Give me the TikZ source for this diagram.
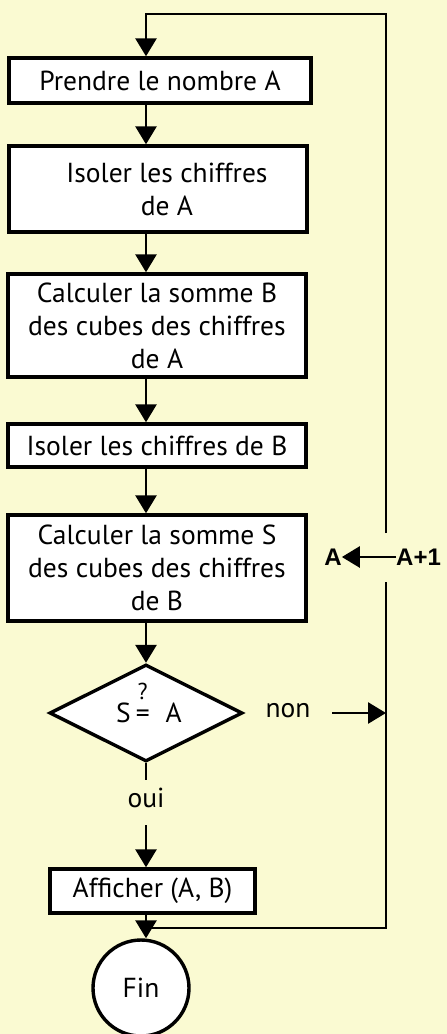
\documentclass[tikz,border=0pt]{standalone}
\usepackage{fontspec}
\setmainfont{PT Sans}
\newfontfamily\boldlabel{Liberation Sans}[BoldFont={Liberation Sans Bold}]
\usetikzlibrary{shapes.geometric,arrows.meta}
\definecolor{paper}{RGB}{250,250,210}

\tikzset{
  box/.style={draw,line width=3.4pt,fill=white,align=center,inner sep=0pt,
    font=\fontsize{27.5}{33}\selectfont},
  flow/.style={line width=2.8pt,-{Triangle[length=18pt,width=21pt]}},
  link/.style={line width=2.6pt},
  plain/.style={font=\fontsize{27.5}{30}\selectfont},
}
\newcommand{\queq}{\ooalign{=\cr\hidewidth\raisebox{23pt}{\fontsize{23}{23}\selectfont ?}\hidewidth\cr}}

\begin{document}
\begin{tikzpicture}[x=1pt,y=-1pt]

\path[use as bounding box,fill=paper] (0,0) rectangle (447,1034);

\coordinate (ax) at (146,0);
\coordinate (topL) at (146,14);
\coordinate (topR) at (386,14);
\coordinate (gapT) at (386,533);
\coordinate (gapB) at (386,582);
\coordinate (botR) at (386,928);
\coordinate (botL) at (146,928);

\node[box,minimum width=302pt,minimum height=45pt] (prendre) at (160,80.5) {Prendre le nombre A};
\node[box,minimum width=298pt,minimum height=86pt] (isolA) at (158,189) {\hspace*{18pt}Isoler les chiffres\\\hspace*{18pt}de A};
\node[box,minimum width=298pt,minimum height=103pt] (calcB) at (157,325.5) {Calculer la somme B\\des cubes des chiffres\\de A};
\node[box,minimum width=298pt,minimum height=43pt] (isolB) at (157,445.5) {Isoler les chiffres de B};
\node[box,minimum width=298pt,minimum height=106pt] (calcS) at (157,568) {Calculer la somme S\\des cubes des chiffres\\de B};
\node[box,shape=diamond,minimum width=193pt,minimum height=97pt] (test) at (146,713)
  {\hspace*{6pt}S\hspace{5pt}\queq\hspace{16pt}A};
\node[box,minimum width=205pt,minimum height=44pt] (affich) at (152.5,891) {Afficher (A, B)};
\node[box,shape=circle,minimum size=96pt] (fin) at (141,988) {Fin};

\node[plain] (non) at (288,711) {non};
\node[plain] (oui) at (146,798) {oui};
\coordinate (nonA) at (332,713);
\coordinate (nonB) at (386,713);
\coordinate (ouiA) at (146,780);
\coordinate (ouiB) at (146,825);

\node[font=\boldlabel\bfseries\fontsize{24}{28}\selectfont,inner sep=0pt] (lhs) at (333,557) {A};
\node[font=\boldlabel\bfseries\fontsize{24}{28}\selectfont,inner sep=0pt,anchor=west] (rhs) at (396,557) {A+1};

% main flow
\draw[flow] (prendre.south -| ax) -- (isolA.north -| ax);
\draw[flow] (isolA.south -| ax) -- (calcB.north -| ax);
\draw[flow] (calcB.south -| ax) -- (isolB.north -| ax);
\draw[flow] (isolB.south -| ax) -- (calcS.north -| ax);
\draw[flow] (calcS.south -| ax) -- (test.north);
\draw[link] (test.south) -- (ouiA);
\draw[flow] (ouiB) -- (affich.north -| ax);
\draw[flow] (affich.south -| ax) -- (fin.north -| ax);

% loop back
\draw[link] (botL) -- (botR) -- (gapB);
\draw[flow] (gapT) -- (topR) -- (topL) -- (prendre.north -| ax);
\draw[flow] (nonA) -- (nonB);
\draw[flow] (rhs.west) -- (lhs.east);

\end{tikzpicture}
\end{document}
